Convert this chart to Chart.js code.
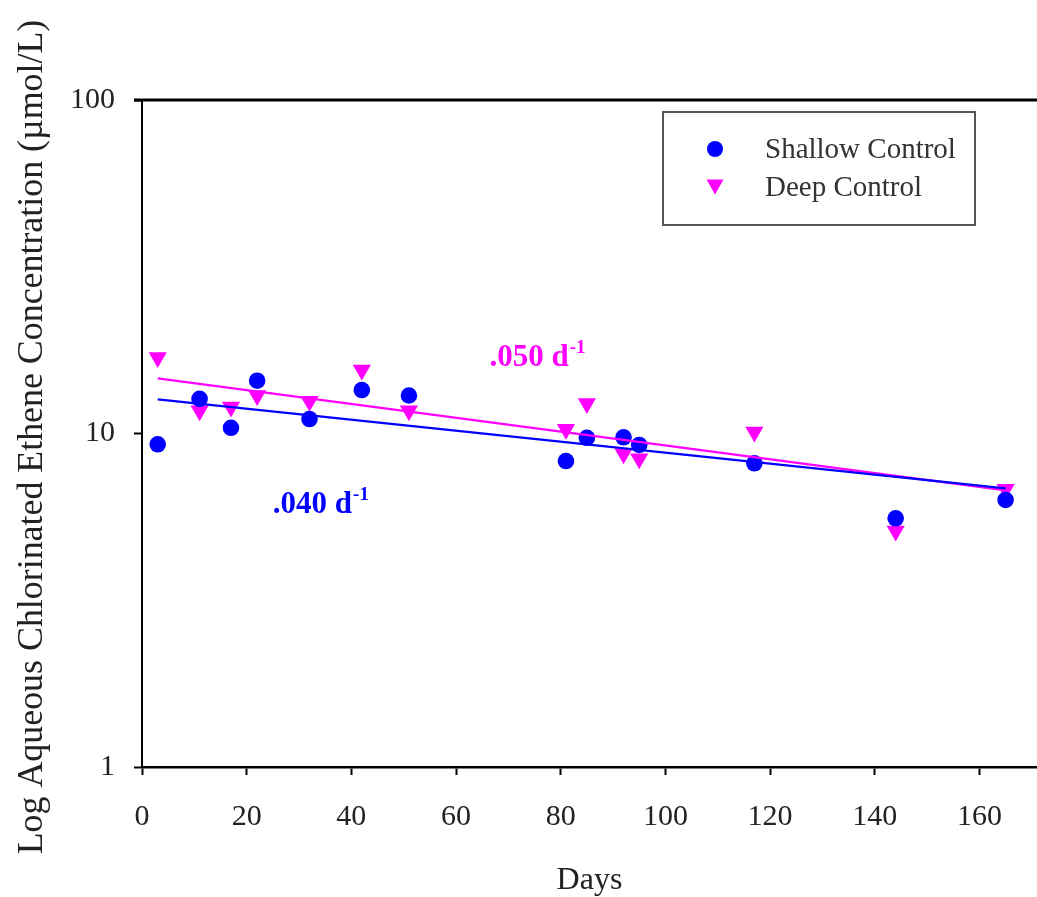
<!DOCTYPE html>
<html><head><meta charset="utf-8">
<script src="https://cdn.jsdelivr.net/npm/chart.js@4"></script>
<style>html,body{margin:0;padding:0;background:#fff}#wrap{width:1037px;height:897px;position:relative}</style>
</head><body><div id="wrap"><canvas id="c" width="1037" height="897"></canvas></div>
<script>
// ---- data ----
const days = [3, 11, 17, 22, 32, 42, 51, 81, 85, 92, 95, 117, 144, 165];
const shallowControl = [9.28, 12.7, 10.4, 14.4, 11.05, 13.5, 13.0, 8.27, 9.71, 9.74, 9.24, 8.14, 5.57, 6.32];
const deepControl = [16.9, 11.7, 12.0, 13.0, 12.5, 15.5, 11.7, 10.3, 12.3, 8.7, 8.4, 10.1, 5.1, 6.8];
const fitDays = [3, 165];
const shallowFit = [12.66, 6.85];
const deepFit = [14.64, 6.75];
const xTicks = [0, 20, 40, 60, 80, 100, 120, 140, 160];
const yTicks = [1, 10, 100];
const seriesNames = ['Shallow Control', 'Deep Control'];
const rateTexts = ['.040 d', '.050 d'];
const xTitle = 'Days';
const yTitle = 'Log Aqueous Chlorinated Ethene Concentration (\u00B5mol/L)';

const BLUE = '#0000FF', MAG = '#FF00FF', TXT = '#222';
const FONT = 'Liberation Serif';
const pts = (xs, ys) => xs.map((v, i) => ({x: v, y: ys[i]}));

function downTri(ctx, cx, cy, w, h) {
  ctx.beginPath();
  ctx.moveTo(cx - w / 2, cy - h / 2);
  ctx.lineTo(cx + w / 2, cy - h / 2);
  ctx.lineTo(cx, cy + h / 2);
  ctx.closePath();
  ctx.fill();
}

const decor = {
  id: 'decor',
  afterDraw(chart) {
    const {ctx, chartArea: a, scales: {x, y}} = chart;
    ctx.save();
    // top frame line
    ctx.strokeStyle = '#000'; ctx.lineWidth = 3;
    ctx.beginPath(); ctx.moveTo(a.left - 8, a.top); ctx.lineTo(chart.width, a.top); ctx.stroke();

    // y-axis title (sized to span the same length as the reference)
    ctx.save();
    ctx.font = '30px "' + FONT + '"';
    const tw = ctx.measureText(yTitle).width;
    const fs = 30 * 835 / tw;
    ctx.font = fs.toFixed(2) + 'px "' + FONT + '"';
    ctx.translate(33, 437);
    ctx.rotate(-Math.PI / 2);
    ctx.fillStyle = TXT; ctx.textAlign = 'center'; ctx.textBaseline = 'middle';
    ctx.fillText(yTitle, 0, 0);
    ctx.restore();

    // legend
    const lx = 663, ly = 112, lw = 312, lh = 113;
    ctx.fillStyle = '#fff'; ctx.fillRect(lx, ly, lw, lh);
    ctx.strokeStyle = '#555'; ctx.lineWidth = 2; ctx.strokeRect(lx, ly, lw, lh);
    ctx.fillStyle = BLUE;
    ctx.beginPath(); ctx.arc(715, 149, 8, 0, Math.PI * 2); ctx.fill();
    ctx.fillStyle = MAG;
    downTri(ctx, 715, 187, 17, 15);
    ctx.font = '29px "' + FONT + '"';
    ctx.fillStyle = '#333'; ctx.textAlign = 'left'; ctx.textBaseline = 'middle';
    ctx.fillText(seriesNames[0], 765, 150);
    ctx.fillText(seriesNames[1], 765, 188);

    // rate labels
    function rate(text, color, dx, vy) {
      const px = x.getPixelForValue(dx), py = y.getPixelForValue(vy);
      ctx.font = 'bold 31px "' + FONT + '"';
      ctx.fillStyle = color; ctx.textAlign = 'left'; ctx.textBaseline = 'alphabetic';
      ctx.fillText(text, px, py);
      const w = ctx.measureText(text).width;
      ctx.font = 'bold 19px "' + FONT + '"';
      ctx.fillText('-1', px + w + 1, py - 13);
    }
    rate(rateTexts[0], BLUE, 25, 5.78);
    rate(rateTexts[1], MAG, 66.4, 15.9);
    ctx.restore();
  }
};

new Chart(document.getElementById('c'), {
  type: 'scatter',
  data: {
    datasets: [
      {label: 'Shallow fit', data: pts(fitDays, shallowFit), showLine: true, borderColor: BLUE, borderWidth: 2.2, pointRadius: 0},
      {label: 'Deep fit', data: pts(fitDays, deepFit), showLine: true, borderColor: MAG, borderWidth: 2.2, pointRadius: 0},
      {label: seriesNames[0], data: pts(days, shallowControl), pointStyle: 'circle', pointRadius: 8.3, backgroundColor: BLUE, borderColor: BLUE, borderWidth: 0},
      {label: seriesNames[1], data: pts(days, deepControl), pointStyle: 'triangle', rotation: 180, pointRadius: 10.5, backgroundColor: MAG, borderColor: MAG, borderWidth: 0}
    ]
  },
  options: {
    responsive: false,
    animation: false,
    events: [],
    layout: {autoPadding: false, padding: {top: 100, left: 0, right: 0, bottom: 0}},
    plugins: {legend: {display: false}, tooltip: {enabled: false}},
    scales: {
      x: {
        type: 'linear', position: 'bottom', min: 0, max: 171,
        afterBuildTicks: s => { s.ticks = xTicks.map(v => ({value: v})); },
        afterFit: s => { s.height = 130; s.paddingRight = 0; s.paddingLeft = 0; },
        ticks: {color: TXT, font: {family: FONT, size: 30}, padding: 24, callback: v => String(v)},
        grid: {drawOnChartArea: false, drawTicks: true, tickLength: 8, tickWidth: 2, tickColor: '#000'},
        border: {display: true, color: '#000', width: 2.5},
        title: {display: true, text: xTitle, color: TXT, font: {family: FONT, size: 32, lineHeight: 1}, padding: {top: 0, bottom: 0}}
      },
      y: {
        type: 'logarithmic', position: 'left', min: 1, max: 100,
        afterBuildTicks: s => { s.ticks = yTicks.map(v => ({value: v})); },
        afterFit: s => { s.width = 142; },
        ticks: {color: TXT, font: {family: FONT, size: 30}, padding: 19, callback: v => String(v)},
        grid: {drawOnChartArea: false, drawTicks: true, tickLength: 8, tickWidth: 2, tickColor: '#000'},
        border: {display: true, color: '#000', width: 2}
      }
    }
  },
  plugins: [decor]
});
</script>
</body></html>
